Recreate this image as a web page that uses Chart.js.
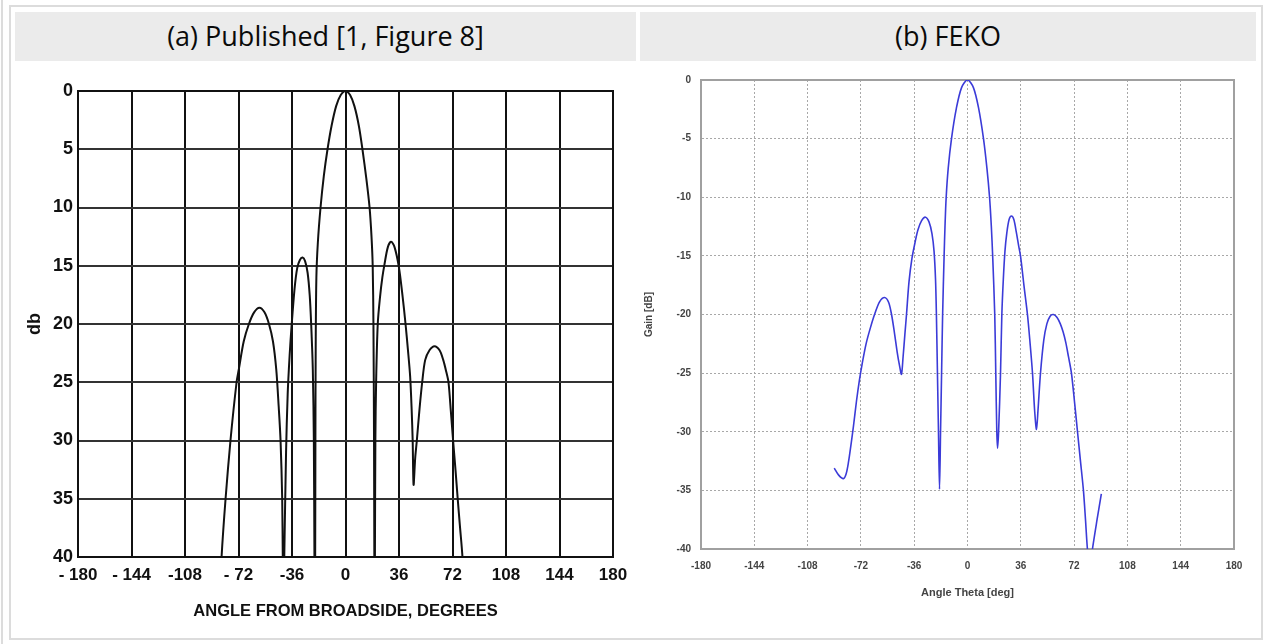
<!DOCTYPE html>
<html><head><meta charset="utf-8">
<script src="https://cdn.jsdelivr.net/npm/chart.js@4.4.1/dist/chart.umd.min.js"></script>
<style>
html,body{margin:0;padding:0;background:#fff;}
body{width:1265px;height:644px;position:relative;overflow:hidden;}
#lline{position:absolute;left:1px;top:0;width:2px;height:644px;background:#dcdcdc;}
#frame{position:absolute;left:9px;top:5px;width:1250px;height:631px;border:2px solid #dcdcdc;}
.hdr{position:absolute;top:12px;height:49px;line-height:47px;background:#ebebeb;text-align:center;
 font-family:"Open Sans","Noto Sans",sans-serif;font-size:27px;color:#0a0a0a;}
#ha{left:15px;width:621px;}
#hb{left:640px;width:616px;}
.cw{position:absolute;top:64px;}
#ca{left:15px;}
#cb{left:640px;}
</style></head>
<body>
<div id="lline"></div>
<div id="frame"></div>
<div class="hdr" id="ha">(a) Published [1, Figure 8]</div>
<div class="hdr" id="hb">(b) FEKO</div>
<canvas class="cw" id="ca" width="621" height="570"></canvas>
<canvas class="cw" id="cb" width="616" height="570"></canvas>
<script>
// ---- Panel (a): published pattern (dB below peak, axis reversed) ----
const aXTicks = [-180,-144,-108,-72,-36,0,36,72,108,144,180];
const aXLabels = ['- 180','- 144','-108','- 72','-36','0','36','72','108','144','180'];
const aYTicks = [0,5,10,15,20,25,30,35,40];
const aAngle = [
  -83.8,-83.4,-80.7,-77.4,-73.3,-71.8,-68.5,-65,-61.5,-57.9,-54.5,-51.5,-48.8,-46.6,-45,-43.7,-42.6,-42.2,-41.9,
  -41.5,-41.2,-40,-38.9,-37.6,-36.3,-34.3,-32.5,-30.7,-28.9,-27.2,-25.5,-24.1,-23.1,-22,-21.3,-20.9,-20.75,
  -20.55,-20.4,-20.25,-20.05,-19.6,-18.6,-16.8,-14.6,-12.1,-9.4,-6.3,-3.2,0,3.1,6,9,11.4,14,16.2,17.5,18.3,18.8,19.2,19.4,19.5,
  19.7,19.8,20.1,20.6,21.7,23.3,24.8,26.2,28.5,30.7,33,35.9,38.3,40.4,42,43.5,44.5,45.2,45.8,
  46.9,48,49.8,51.6,53.6,56.5,59.9,63.3,65.8,67.8,69.3,70.9,72.4,74,75.5,77.1,78.7,79.1];
const aDb = [
  42,40,35,30,25,23.9,21.5,20,19,18.6,19,20,21.5,23.9,27,30,35,40,42,
  42,40,31,26,22.7,20.2,17,15.2,14.5,14.3,14.6,15.6,17.5,20,23.9,30,40,42,
  42,40,30,22,16,13,10,7.3,5,3,1.3,0.35,0,0.35,1.3,3,5,7.5,10,12.5,15,20,30,40,42,
  42,40,30,25,20,17.6,16,14.9,13.4,12.95,13.4,15.1,17.5,20,22.2,24.5,27.3,30,33.8,
  31.5,30,27.3,25,23.1,22.25,21.9,22.25,23.1,24.1,25,27.5,30,32.5,35,37.5,40,42];

// ---- Panel (b): FEKO gain ----
const bXTicks = [-180,-144,-108,-72,-36,0,36,72,108,144,180];
const bXLabels = ['-180','-144','-108','-72','-36','0','36','72','108','144','180'];
const bYTicks = [0,-5,-10,-15,-20,-25,-30,-35,-40];
const bAngle = [
  -90,-87,-83.8,-82,-80.4,-78.8,-77,-75,-73,-71,-68.5,-65.5,-62.5,-59.3,-56,-53.3,-51.3,-49.3,-47.5,-46,-44.6,
  -43.5,-42.3,-41.2,-39.5,-37.5,-35.5,-33.5,-31,-28.4,-26,-24,-22.6,-21.6,-21,-20.3,-19.6,-18.9,
  -18.2,-17.5,-16.8,-15.8,-15.2,-14.4,-13,-10.8,-7.5,-4,0,4,7.5,10.8,13.1,14.9,16.1,17,18.4,19.1,19.8,20.3,
  21,22.3,23.2,24.2,25.3,26.6,28.1,29.7,31.3,33,34.5,35.8,38.2,40.5,42.3,43.9,45.4,46.6,
  47.6,49.3,51.5,53.6,55.8,58,60.5,62.7,64.6,66.4,68.2,70.2,72.4,74.3,76.3,78.3,79.7,81,82.7,84.4,87.5,90.4];
const bGain = [
  -33.1,-33.7,-34.0,-33.6,-32.6,-31.2,-29.5,-27.4,-25.6,-24.1,-22.5,-21.1,-19.9,-18.9,-18.55,-18.95,-20,-21.6,-23.2,-24.3,-25.1,
  -23.6,-21.7,-20,-17.2,-15.2,-13.9,-12.8,-12.0,-11.7,-12.1,-13.1,-14.6,-17,-20,-25,-30,-34.9,
  -30,-25,-20,-15,-12.5,-10,-7.5,-5,-2.4,-0.65,0,-0.65,-2.4,-5,-7.5,-10,-12.5,-15,-20,-25,-30,-31.4,
  -30,-25,-20,-17,-14.6,-13,-11.9,-11.6,-11.9,-13,-14.1,-15,-17.6,-20,-22.5,-25,-28.3,-29.8,
  -28.2,-25,-22.2,-20.8,-20.15,-20,-20.25,-20.8,-21.5,-22.4,-23.6,-25,-27.6,-30,-32.5,-35,-37.5,-40,-41.8,-40,-37.5,-35.3];

const framePlugin = {
  id: 'frame',
  beforeDatasetsDraw(chart, args, opts) {
    if (!opts || !opts.color) return;
    const {ctx, chartArea: {left, top, right, bottom}} = chart;
    ctx.save();
    ctx.strokeStyle = opts.color;
    ctx.lineWidth = opts.width;
    ctx.strokeRect(left, top, right - left, bottom - top);
    ctx.restore();
  }
};

const pts = (xs, ys) => xs.map((x, i) => ({x, y: ys[i]}));
const sansA = '"Liberation Sans",Arial,sans-serif';

new Chart(document.getElementById('ca'), {
  type: 'line',
  data: { datasets: [{
    data: pts(aAngle, aDb), borderColor: '#111', borderWidth: 2, pointRadius: 0,
    tension: 0.3, clip: 0, fill: false
  }]},
  options: {
    responsive: false, animation: false,
    layout: { padding: { top: 27, right: 23, left: 0, bottom: 0 } },
    plugins: { legend: { display: false }, tooltip: { enabled: false }, frame: { color: '#111', width: 2 } },
    scales: {
      x: {
        type: 'linear', min: -180, max: 180,
        afterBuildTicks: s => { s.ticks = aXTicks.map(v => ({value: v})); },
        afterFit: s => { s.height = 77; },
        ticks: { autoSkip: false, maxRotation: 0, padding: 8, color: '#111',
          font: { family: sansA, size: 17, weight: 'bold' },
          callback: (v, i) => aXLabels[i] },
        grid: { color: '#111', lineWidth: 2, drawTicks: false },
        border: { color: '#111', width: 2 },
        title: { display: true, text: 'ANGLE FROM BROADSIDE, DEGREES', color: '#111',
          font: { family: sansA, size: 16.5, weight: 'bold' }, padding: { top: 0, bottom: 13 } }
      },
      y: {
        type: 'linear', min: 0, max: 40, reverse: true,
        afterBuildTicks: s => { s.ticks = aYTicks.map(v => ({value: v})); },
        afterFit: s => { s.width = 63; },
        ticks: { padding: 5, color: '#111', font: { family: sansA, size: 18, weight: 'bold' } },
        grid: { color: '#333', lineWidth: 2, drawTicks: false },
        border: { color: '#111', width: 2 },
        title: { display: true, text: 'db', color: '#111',
          font: { family: sansA, size: 18, weight: 'bold' }, padding: { top: 9, bottom: 0 } }
      }
    }
  },
  plugins: [framePlugin]
});

new Chart(document.getElementById('cb'), {
  type: 'line',
  data: { datasets: [{
    data: pts(bAngle, bGain), borderColor: '#3b3bd8', borderWidth: 1.6, pointRadius: 0,
    tension: 0.3, clip: 0, fill: false
  }]},
  options: {
    responsive: false, animation: false,
    layout: { padding: { top: 15, right: 22, left: 0, bottom: 0 } },
    plugins: { legend: { display: false }, tooltip: { enabled: false }, frame: { color: '#a0a0a0', width: 2 } },
    scales: {
      x: {
        type: 'linear', min: -180, max: 180,
        afterBuildTicks: s => { s.ticks = bXTicks.map(v => ({value: v})); },
        afterFit: s => { s.height = 85; },
        ticks: { autoSkip: false, maxRotation: 0, padding: 11, color: '#444',
          font: { family: sansA, size: 10, weight: 'bold' },
          callback: (v, i) => bXLabels[i] },
        grid: { color: '#a8a8a8', lineWidth: 1, drawTicks: false },
        border: { color: '#a0a0a0', width: 2, dash: [2, 2] },
        title: { display: true, text: 'Angle Theta [deg]', color: '#444',
          font: { family: sansA, size: 11, weight: 'bold' }, padding: { top: 0, bottom: 34 } }
      },
      y: {
        type: 'linear', min: -40, max: 0,
        afterBuildTicks: s => { s.ticks = bYTicks.map(v => ({value: v})); },
        afterFit: s => { s.width = 61; },
        ticks: { padding: 10, color: '#444',
          font: { family: sansA, size: 10, weight: 'bold' } },
        grid: { color: '#a8a8a8', lineWidth: 1, drawTicks: false },
        border: { color: '#a0a0a0', width: 2, dash: [2, 2] },
        title: { display: true, text: 'Gain [dB]', color: '#444',
          font: { family: sansA, size: 10, weight: 'bold' }, padding: { top: 3, bottom: 0 } }
      }
    }
  },
  plugins: [framePlugin]
});
</script>
</body></html>
